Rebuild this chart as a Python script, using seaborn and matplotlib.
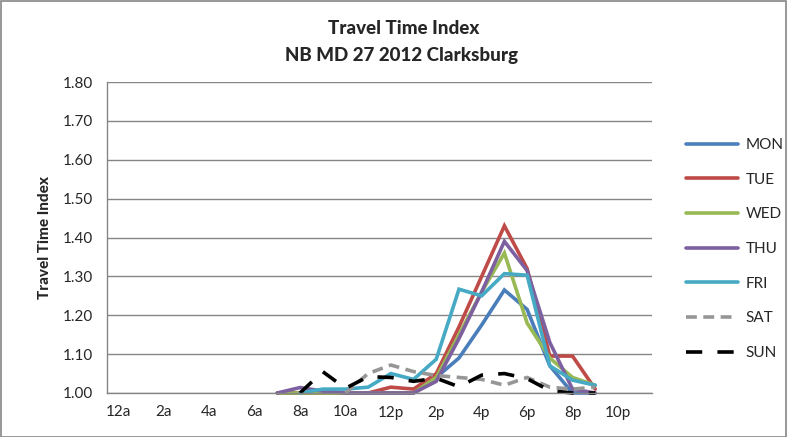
import matplotlib
matplotlib.use("Agg")
import matplotlib.pyplot as plt
import seaborn as sns
import pandas as pd
import numpy as np
from matplotlib.patches import Rectangle

sns.set_style("white")
plt.rcParams['font.family'] = ['Lato', 'DejaVu Sans']

# hour of day 0..23, NaN where no data
hours = list(range(24))
hour_labels = ["12a", "2a", "4a", "6a", "8a", "10a", "12p", "2p", "4p", "6p", "8p", "10p"]
nan = np.nan

mon = [nan]*7 + [1.00, 1.00, 1.00, 1.00, 1.00, 1.00, 1.00, 1.04, 1.09, 1.175, 1.265, 1.215, 1.07, 1.00, 1.00] + [nan]*2
tue = [nan]*7 + [1.00, 1.00, 1.00, 1.00, 1.00, 1.015, 1.01, 1.05, 1.17, 1.30, 1.43, 1.32, 1.095, 1.095, 1.01] + [nan]*2
wed = [nan]*7 + [1.00, 1.00, 1.00, 1.00, 1.00, 1.00, 1.00, 1.04, 1.15, 1.26, 1.36, 1.18, 1.09, 1.04, 1.02] + [nan]*2
thu = [nan]*7 + [1.00, 1.014, 1.005, 1.00, 1.00, 1.00, 1.00, 1.03, 1.14, 1.26, 1.39, 1.315, 1.13, 1.01, 1.00] + [nan]*2
fri = [nan]*8 + [1.00, 1.01, 1.01, 1.015, 1.05, 1.035, 1.087, 1.267, 1.25, 1.307, 1.303, 1.07, 1.033, 1.02] + [nan]*2
sat = [nan]*10 + [1.00, 1.05, 1.072, 1.055, 1.045, 1.04, 1.035, 1.02, 1.04, 1.015, 1.01, 1.015] + [nan]*2
sun = [nan]*8 + [1.00, 1.055, 1.012, 1.042, 1.04, 1.03, 1.038, 1.016, 1.046, 1.05, 1.037, 1.006, 1.00, 1.00] + [nan]*2

days = ["MON", "TUE", "WED", "THU", "FRI", "SAT", "SUN"]
series = [mon, tue, wed, thu, fri, sat, sun]
colors = ["#4A7EBB", "#BE4B48", "#98B954", "#7D60A0", "#46AAC5", "#969696", "#000000"]

df = pd.concat([pd.DataFrame({"hour": hours, "tti": s, "day": d}) for d, s in zip(days, series)])
df = df.dropna()

fig = plt.figure(figsize=(7.88, 4.37), dpi=100)
ax = fig.add_axes([107/788, 1 - 393/437, (652 - 107)/788, (393 - 82)/437])

dashes = {"MON": "", "TUE": "", "WED": "", "THU": "", "FRI": "",
          "SAT": (3.0, 1.8), "SUN": (4.5, 4.2)}
sns.lineplot(data=df, x="hour", y="tti", hue="day", style="day", hue_order=days,
             style_order=days, palette=dict(zip(days, colors)), dashes=dashes,
             linewidth=2.6, ax=ax, legend=True)
for ln in ax.lines:
    ln.set_clip_on(False)
    ln.set_solid_joinstyle("miter")

ax.set_xlim(-0.5, 23.5)
ax.set_ylim(1.0, 1.8)
ax.set_yticks(np.arange(1.0, 1.81, 0.1))
ax.set_yticklabels([f"{v:.2f}" for v in np.arange(1.0, 1.81, 0.1)], fontsize=11)
ax.set_xticks(range(0, 24, 2))
ax.set_xticklabels(hour_labels, fontsize=11)
ax.tick_params(axis="both", length=0)
ax.tick_params(axis="y", pad=10)
ax.tick_params(axis="x", pad=9)
ax.grid(axis="y", color="#868686", linewidth=1.0)
ax.set_axisbelow(True)
for side in ["top", "right"]:
    ax.spines[side].set_visible(False)
for side in ["left", "bottom"]:
    ax.spines[side].set_color("#868686")
    ax.spines[side].set_linewidth(1.0)

ax.set_xlabel("")
ax.set_ylabel("Travel Time Index", fontsize=11, fontweight="black", labelpad=8)

fig.text(0.512, 1 - 28/437, "Travel Time Index", ha="center", va="center",
         fontsize=13.5, fontweight="black")
fig.text(0.51, 1 - 55/437, "NB MD 27 2012 Clarksburg", ha="center", va="center",
         fontsize=13.5, fontweight="black")

handles, labels = ax.get_legend_handles_labels()
ax.legend_.remove()
fig.legend(handles, labels, loc="center left", bbox_to_anchor=(672/788, 1 - 249/437),
           frameon=False, fontsize=11, handlelength=3.4, labelspacing=1.35,
           handletextpad=0.5)

fig.patches.append(Rectangle((0.001, 0.001), 0.997, 0.997, transform=fig.transFigure,
                             fill=False, edgecolor="#868686", linewidth=1.2))

fig.savefig("out.png", dpi=100)
